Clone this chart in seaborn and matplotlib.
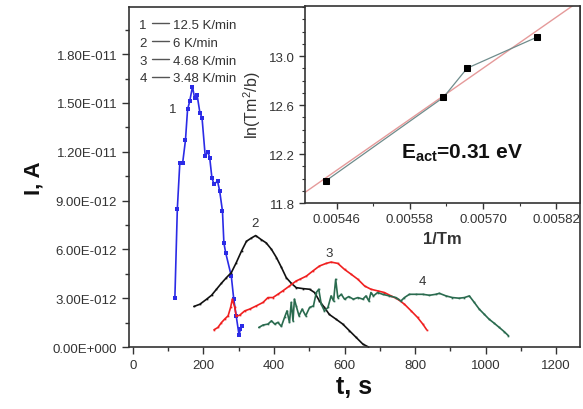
import numpy as np
import pandas as pd
import matplotlib
matplotlib.use("Agg")
import matplotlib.pyplot as plt
import seaborn as sns
from matplotlib.lines import Line2D
from matplotlib.ticker import MultipleLocator, FuncFormatter, FixedLocator

# current curves, t in s, I in units of 1e-12 A
t1 = [119, 126, 133, 141, 149, 155, 161, 169, 175, 182, 190, 196, 205, 213, 218, 224,
      230, 240, 246, 254, 258, 263, 279, 286, 293, 301, 305, 310]
i1 = [3.0, 8.5, 11.3, 11.3, 12.7, 14.6, 15.1, 16.0, 15.3, 15.5, 14.4, 14.1, 11.75, 12.0,
      11.6, 10.4, 10.0, 10.2, 9.6, 8.35, 6.4, 5.8, 4.36, 2.94, 1.9, 0.73, 1.1, 1.27]

t2 = [173, 190, 209, 223, 237, 251, 265, 279, 293, 308, 322, 336, 348, 364, 378, 393,
      407, 421, 435, 449, 463, 482, 501, 515, 529, 543, 557, 576, 595, 614, 633, 652, 668]
i2 = [2.49, 2.63, 2.94, 3.18, 3.55, 3.92, 4.26, 4.57, 5.18, 5.9, 6.5, 6.7, 6.85, 6.6, 6.4,
      6.0, 5.5, 4.9, 4.26, 3.92, 3.65, 3.59, 3.55, 3.35, 2.83, 2.43, 2.0, 1.71, 1.41, 1.0,
      0.59, 0.18, 0.0]

t3 = [230, 241, 251, 260, 270, 277, 282, 289, 293, 303, 317, 331, 350, 369, 383, 397, 411,
      425, 444, 463, 473, 492, 510, 529, 548, 562, 581, 600, 619, 638, 657, 675, 694, 713,
      732, 751, 770, 789, 807, 822, 833]
i3 = [1.06, 1.2, 1.5, 1.71, 1.92, 2.43, 2.94, 2.43, 1.88, 1.96, 2.22, 2.33, 2.53, 2.74,
      3.04, 3.04, 3.24, 3.45, 3.75, 4.06, 4.16, 4.36, 4.67, 4.98, 5.14, 5.22, 5.14, 4.77,
      4.47, 4.16, 3.75, 3.55, 3.45, 3.35, 3.14, 2.94, 2.63, 2.22, 1.82, 1.41, 1.06]

t4 = [357, 369, 383, 393, 402, 411, 421, 430, 437, 444, 449, 454, 458, 463, 471, 480, 490,
      501, 512, 520, 527, 534, 543, 553, 562, 569, 575, 581, 591, 600, 612, 625, 638, 652,
      661, 669, 675, 682, 694, 708, 727, 746, 760, 770, 784, 803, 822, 841, 859, 869, 888,
      906, 925, 940, 954, 968, 982, 996, 1010, 1024, 1039, 1053, 1065]
i4 = [1.2, 1.35, 1.41, 1.61, 1.41, 1.51, 1.27, 1.82, 2.22, 1.51, 2.74, 1.61, 2.94, 2.53,
      1.92, 2.33, 1.92, 2.43, 2.53, 3.35, 3.55, 2.63, 2.22, 2.43, 3.14, 2.83, 4.16, 3.04,
      3.24, 2.94, 3.1, 2.94, 3.04, 2.94, 3.14, 2.83, 3.35, 3.14, 3.35, 3.24, 3.14, 3.04,
      2.83, 3.04, 3.24, 3.24, 3.24, 3.18, 3.24, 3.3, 3.14, 3.04, 3.0, 3.04, 3.14, 2.74,
      2.33, 2.02, 1.71, 1.47, 1.2, 0.94, 0.69]

rates = ["12.5 K/min", "6 K/min", "4.68 K/min", "3.48 K/min"]
curve_ids = ["1", "2", "3", "4"]
colors = ["#2b2be6", "#111111", "#f02020", "#2a6b4f"]
label_pos_t = [112, 345, 557, 821]
label_pos_i = [14.6, 7.6, 5.8, 4.06]

# Arrhenius-type inset
inv_tm = [0.005442, 0.005635, 0.005674, 0.005789]
ln_tm2b = [11.98, 12.663, 12.902, 13.157]
inset_yticks = [11.8, 12.2, 12.6, 13.0]
inset_xticks = [0.00546, 0.00558, 0.00570, 0.00582]

sns.set_theme(style="ticks")
plt.rcParams["font.family"] = ["Liberation Sans", "DejaVu Sans"]
plt.rcParams["mathtext.fontset"] = "custom"
plt.rcParams["mathtext.rm"] = "Liberation Sans"
plt.rcParams["mathtext.bf"] = "Liberation Sans:bold"
plt.rcParams["mathtext.it"] = "Liberation Sans:italic"

fig = plt.figure(figsize=(5.83, 4.10), dpi=100)
ax = fig.add_axes([0.2213, 0.1512, 0.7737, 0.8293])

dark = "#333333"
for t, i, c in zip([t1, t2, t3, t4], [i1, i2, i3, i4], colors):
    d = pd.DataFrame({"t": t, "I": np.array(i) * 1e-12})
    sns.lineplot(data=d, x="t", y="I", sort=False, estimator=None, ax=ax, color=c,
                 lw=1.2, marker="s", markersize=2.2 if c == colors[0] else 1.2,
                 markeredgewidth=0)

for k, tx, ty in zip(curve_ids, label_pos_t, label_pos_i):
    ax.text(tx, ty * 1e-12, k, fontsize=9.5, color=dark, ha="center", va="center")

ax.set_xlim(-11, 1268)
ax.set_ylim(0, 2.09e-11)
ax.xaxis.set_major_locator(MultipleLocator(200))
ax.xaxis.set_minor_locator(MultipleLocator(100))
ax.yaxis.set_major_locator(MultipleLocator(3e-12))
ax.yaxis.set_minor_locator(MultipleLocator(1.5e-12))


def sci(v, pos):
    m, e = f"{v:.2E}".split("E")
    e = int(e)
    return f"{m}E{'-' if e < 0 else '+'}{abs(e):03d}"


ax.yaxis.set_major_formatter(FuncFormatter(sci))
ax.tick_params(which="major", length=5, width=1, color=dark, labelcolor=dark, labelsize=9.5)
ax.tick_params(which="minor", length=3, width=1, color=dark)
for s in ax.spines.values():
    s.set_color(dark)
    s.set_linewidth(1.2)
ax.set_xlabel("t, s", fontsize=18, fontweight="bold", color="#111111", labelpad=2)
ax.set_ylabel("I, A", fontsize=16, fontweight="bold", color="#111111", labelpad=6)

handles = [Line2D([], [], color="none")] * 4 + [Line2D([], [], color="#555555", lw=1)] * 4
labels = curve_ids + rates
ax.legend(handles=handles, labels=labels, ncol=2, loc="upper left",
          bbox_to_anchor=(-0.05, 1.0), frameon=False, fontsize=9.5,
          handlelength=1.3, handletextpad=0.3, columnspacing=0.4,
          labelspacing=0.42, labelcolor=dark)

# inset
ins = fig.add_axes([0.523, 0.5024, 0.4719, 0.4805])
ins.set_xlim(0.005408, 0.005859)
ins.set_ylim(11.8, 13.41)
sns.regplot(x=inv_tm, y=ln_tm2b, ax=ins, scatter=False, ci=None, truncate=False,
            line_kws={"color": "#e59a9a", "lw": 1})
sns.lineplot(x=inv_tm, y=ln_tm2b, ax=ins, sort=False, estimator=None, color="#6f8c8c",
             lw=0.9, marker="s", markersize=4, markerfacecolor="black",
             markeredgecolor="black")
ins.set_xlim(0.005408, 0.005859)
ins.set_ylim(11.8, 13.41)
ins.xaxis.set_major_locator(FixedLocator(inset_xticks))
ins.xaxis.set_minor_locator(MultipleLocator(0.00006))
ins.yaxis.set_major_locator(FixedLocator(inset_yticks))
ins.yaxis.set_minor_locator(MultipleLocator(0.1))
ins.xaxis.set_major_formatter(FuncFormatter(lambda v, p: f"{v:.5f}"))
ins.yaxis.set_major_formatter(FuncFormatter(lambda v, p: f"{v:.1f}"))
ins.tick_params(which="major", length=4, width=1, color=dark, labelcolor=dark, labelsize=9.5)
ins.tick_params(which="minor", length=2, width=0.8, color=dark)
for s in ins.spines.values():
    s.set_color(dark)
    s.set_linewidth(1.2)
ins.set_xlabel("1/Tm", fontsize=12, fontweight="bold", color=dark, labelpad=4)
ins.set_ylabel(r"ln(Tm$^{2}$/b)", fontsize=11.5, color=dark, labelpad=4)
ins.text(0.35, 0.23, r"E$_{\mathbf{act}}$=0.31 eV", transform=ins.transAxes,
         fontsize=15, fontweight="bold", color="#111111")

fig.savefig("out.png", dpi=100, facecolor="white")
